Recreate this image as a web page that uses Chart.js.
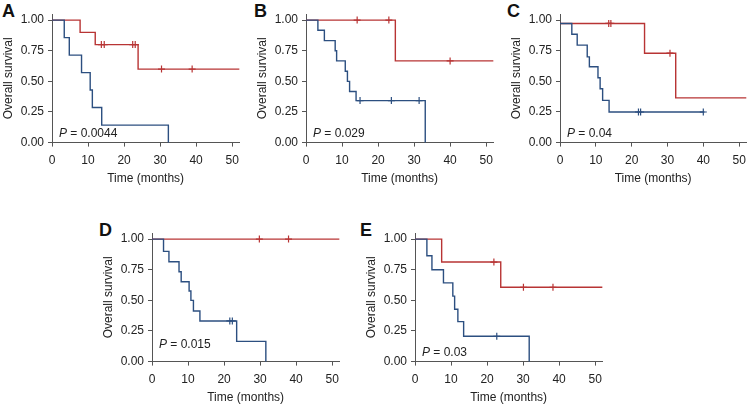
<!DOCTYPE html>
<html>
<head>
<meta charset="utf-8">
<script src="https://cdn.jsdelivr.net/npm/chart.js@4.4.1/dist/chart.umd.min.js"></script>
<style>
    html, body { margin: 0; padding: 0; background: #fff; }
    body { position: relative; width: 753px; height: 404px; overflow: hidden; font-family: "Liberation Sans", Arial, sans-serif; }
    canvas { position: absolute; }
    .tag { position: absolute; font-weight: bold; font-size: 18px; line-height: 18px; color: #111; }
</style>
</head>
<body>
<div class="tag" style="left:2px;top:2px">A</div>
<div class="tag" style="left:254px;top:2px">B</div>
<div class="tag" style="left:507px;top:2px">C</div>
<div class="tag" style="left:99px;top:221px">D</div>
<div class="tag" style="left:360px;top:221px">E</div>

<canvas id="chartA" width="246" height="188" style="left:0px;top:0px"></canvas>
<canvas id="chartB" width="246" height="188" style="left:254px;top:0px"></canvas>
<canvas id="chartC" width="245" height="188" style="left:508px;top:0px"></canvas>
<canvas id="chartD" width="246" height="188" style="left:100px;top:219px"></canvas>
<canvas id="chartE" width="246" height="188" style="left:363px;top:219px"></canvas>

<script>
// ========================================
// DATA
// ========================================

const xTicks = [0, 10, 20, 30, 40, 50];
const yTicks = [0, 0.25, 0.5, 0.75, 1];

// Panel A
const aBlueTime = [0, 3.4, 4.8, 8.2, 10.6, 11.2, 13.8, 32.3];
const aBlueSurv = [1, 0.857, 0.714, 0.571, 0.429, 0.286, 0.143, 0];
const aBlueCensor = [];
const aRedTime = [0, 7.8, 12.0, 23.9, 52];
const aRedSurv = [1, 0.9, 0.8, 0.6, 0.6];
const aRedCensor = [13.7, 14.5, 22.4, 23.1, 30.4, 38.9];

// Panel B
const bBlueTime = [0, 3.3, 5.1, 8.1, 8.5, 10.9, 11.5, 12.1, 13.9, 33.1];
const bBlueSurv = [1, 0.917, 0.833, 0.75, 0.667, 0.583, 0.5, 0.417, 0.343, 0];
const bBlueCensor = [15.0, 23.7, 31.4];
const bRedTime = [0, 24.8, 52];
const bRedSurv = [1, 0.667, 0.667];
const bRedCensor = [14.2, 23.0, 40.0];

// Panel C
const cBlueTime = [0, 3.3, 4.8, 7.6, 8.2, 10.6, 11.2, 11.9, 13.7, 40.3];
const cBlueSurv = [0.973, 0.885, 0.796, 0.70, 0.619, 0.53, 0.44, 0.345, 0.25, 0.25];
const cBlueCensor = [21.9, 22.5, 40.0];
const cRedTime = [0, 23.6, 32.3, 52];
const cRedSurv = [0.973, 0.73, 0.365, 0.365];
const cRedCensor = [13.6, 14.2, 30.7];

// Panel D
const dBlueTime = [0, 3.2, 4.7, 7.5, 8.1, 10.3, 10.8, 11.5, 13.3, 23.5, 31.6];
const dBlueSurv = [1, 0.9, 0.815, 0.734, 0.652, 0.576, 0.5, 0.413, 0.332, 0.165, 0];
const dBlueCensor = [21.6, 22.3];
const dRedTime = [0, 52];
const dRedSurv = [1, 1];
const dRedCensor = [29.8, 37.9];

// Panel E
const eBlueTime = [0, 3.3, 4.7, 7.9, 10.5, 11.0, 11.9, 13.5, 31.7];
const eBlueSurv = [1, 0.864, 0.75, 0.643, 0.535, 0.427, 0.326, 0.207, 0];
const eBlueCensor = [22.7];
const eRedTime = [0, 7.4, 23.8, 52];
const eRedSurv = [1, 0.813, 0.607, 0.607];
const eRedCensor = [21.9, 30.1, 38.3];

const pValueText = ['0.0044', '0.029', '0.04', '0.015', '0.03'];

// ========================================
// STYLE
// ========================================

const BLUE = '#2c4f80';
const RED = '#b83434';
const AXIS = '#555';
const TEXT = '#222';
const FONT = '"Liberation Sans", Arial, sans-serif';

Chart.defaults.font.family = FONT;
Chart.defaults.font.size = 12;

// Helper Functions
function stepPoints(times, surv) {
    return times.map((t, i) => ({ x: t, y: surv[i] }));
}

function censorPoints(censor, times, surv) {
    return censor.map(t => {
        let s = surv[0];
        times.forEach((st, i) => { if (st <= t) s = surv[i]; });
        return { x: t, y: s };
    });
}

// P value text, drawn inside the plot area
const pValuePlugin = {
    id: 'pValue',
    afterDraw(chart, args, opts) {
        const { ctx, chartArea } = chart;
        const x = chartArea.left + 7;
        const y = chartArea.bottom - opts.lift;
        ctx.save();
        ctx.fillStyle = TEXT;
        ctx.textBaseline = 'alphabetic';
        ctx.textAlign = 'left';
        ctx.font = 'italic 12px ' + FONT;
        ctx.fillText('P', x, y);
        const w = ctx.measureText('P').width;
        ctx.font = '12px ' + FONT;
        ctx.fillText(' = ' + opts.text, x + w, y);
        ctx.restore();
    }
};

function makePanel(id, blue, red, pText, lift) {
    const ctx = document.getElementById(id).getContext('2d');
    return new Chart(ctx, {
        type: 'line',
        data: {
            datasets: [
                {
                    data: stepPoints(blue.time, blue.surv),
                    borderColor: BLUE, borderWidth: 1.4,
                    stepped: 'before', pointRadius: 0, fill: false, clip: false
                },
                {
                    type: 'scatter',
                    data: censorPoints(blue.censor, blue.time, blue.surv),
                    borderColor: BLUE, backgroundColor: BLUE, borderWidth: 1.2,
                    pointStyle: 'cross', pointRadius: 3.5, showLine: false, clip: false
                },
                {
                    data: stepPoints(red.time, red.surv),
                    borderColor: RED, borderWidth: 1.4,
                    stepped: 'before', pointRadius: 0, fill: false, clip: false
                },
                {
                    type: 'scatter',
                    data: censorPoints(red.censor, red.time, red.surv),
                    borderColor: RED, backgroundColor: RED, borderWidth: 1.2,
                    pointStyle: 'cross', pointRadius: 3.5, showLine: false, clip: false
                }
            ]
        },
        options: {
            responsive: false,
            animation: false,
            devicePixelRatio: 1,
            layout: { padding: { top: 14, right: 2, bottom: 0, left: 0 } },
            plugins: {
                legend: { display: false },
                tooltip: { enabled: false },
                pValue: { text: pText, lift: lift }
            },
            scales: {
                x: {
                    type: 'linear', min: 0, max: 52,
                    afterBuildTicks: s => { s.ticks = xTicks.map(v => ({ value: v })); },
                    afterFit: s => { s.height = 45.4; },
                    ticks: { color: TEXT, padding: 7, maxRotation: 0, callback: v => String(v) },
                    grid: { drawOnChartArea: false, drawTicks: true, tickLength: 4, tickColor: AXIS },
                    border: { color: AXIS, width: 1 },
                    title: { display: true, text: 'Time (months)', color: TEXT, padding: { top: 0, bottom: 2 } }
                },
                y: {
                    type: 'linear', min: 0, max: 1.05,
                    afterBuildTicks: s => { s.ticks = yTicks.map(v => ({ value: v })); },
                    afterFit: s => { s.width = 52; },
                    ticks: { color: TEXT, padding: 4, callback: v => v.toFixed(2) },
                    grid: { drawOnChartArea: false, drawTicks: true, tickLength: 4, tickColor: AXIS },
                    border: { color: AXIS, width: 1 },
                    title: { display: true, text: 'Overall survival', color: TEXT, padding: { top: 1, bottom: 0 } }
                }
            }
        },
        plugins: [pValuePlugin]
    });
}

document.addEventListener('DOMContentLoaded', function () {
    makePanel('chartA',
        { time: aBlueTime, surv: aBlueSurv, censor: aBlueCensor },
        { time: aRedTime, surv: aRedSurv, censor: aRedCensor }, pValueText[0], 6);
    makePanel('chartB',
        { time: bBlueTime, surv: bBlueSurv, censor: bBlueCensor },
        { time: bRedTime, surv: bRedSurv, censor: bRedCensor }, pValueText[1], 6);
    makePanel('chartC',
        { time: cBlueTime, surv: cBlueSurv, censor: cBlueCensor },
        { time: cRedTime, surv: cRedSurv, censor: cRedCensor }, pValueText[2], 6);
    makePanel('chartD',
        { time: dBlueTime, surv: dBlueSurv, censor: dBlueCensor },
        { time: dRedTime, surv: dRedSurv, censor: dRedCensor }, pValueText[3], 13.5);
    makePanel('chartE',
        { time: eBlueTime, surv: eBlueSurv, censor: eBlueCensor },
        { time: eRedTime, surv: eRedSurv, censor: eRedCensor }, pValueText[4], 6);
});
</script>
</body>
</html>
